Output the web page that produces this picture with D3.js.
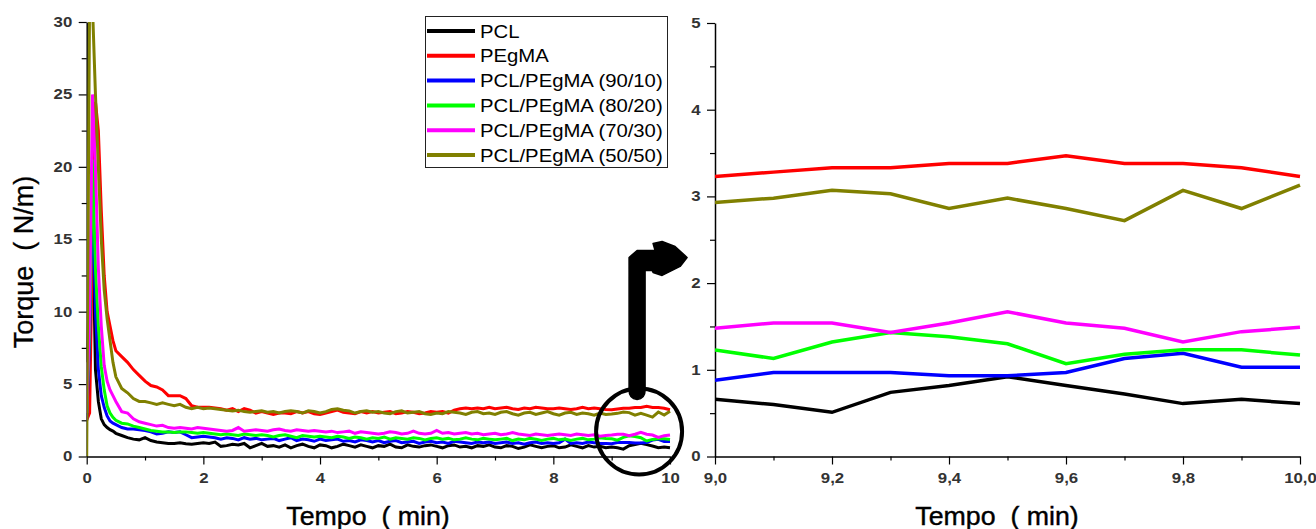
<!DOCTYPE html>
<html>
<head>
<meta charset="utf-8">
<script src="https://cdn.jsdelivr.net/npm/d3@7"></script>
<style>
  html, body { margin: 0; padding: 0; background: #fff; }
  svg { display: block; }
  text { font-family: "Liberation Sans", Arial, sans-serif; }
</style>
</head>
<body>
<svg id="chart" width="1316" height="529"></svg>
<script>
// ---------------- DATA ----------------
const seriesNames = ["PCL", "PEgMA", "PCL/PEgMA (90/10)", "PCL/PEgMA (80/20)", "PCL/PEgMA (70/30)", "PCL/PEgMA (50/50)"];
const seriesColors = ["#000000", "#ff0000", "#0000ff", "#00ff00", "#ff00ff", "#808000"];

const tempo = [0, 0.05, 0.1, 0.15, 0.2, 0.25, 0.3, 0.35, 0.4, 0.45,
  0.5, 0.6, 0.7, 0.8, 0.9,
  1.0, 1.1, 1.2, 1.3, 1.4, 1.5, 1.6, 1.7, 1.8, 1.9,
  2.0, 2.1, 2.2, 2.3, 2.4, 2.5, 2.6, 2.7, 2.8, 2.9,
  3.0, 3.1, 3.2, 3.3, 3.4, 3.5, 3.6, 3.7, 3.8, 3.9,
  4.0, 4.1, 4.2, 4.3, 4.4, 4.5, 4.6, 4.7, 4.8, 4.9,
  5.0, 5.1, 5.2, 5.3, 5.4, 5.5, 5.6, 5.7, 5.8, 5.9,
  6.0, 6.1, 6.2, 6.3, 6.4, 6.5, 6.6, 6.7, 6.8, 6.9,
  7.0, 7.1, 7.2, 7.3, 7.4, 7.5, 7.6, 7.7, 7.8, 7.9,
  8.0, 8.1, 8.2, 8.3, 8.4, 8.5, 8.6, 8.7, 8.8, 8.9,
  9.0, 9.1, 9.2, 9.3, 9.4, 9.5, 9.6, 9.7, 9.8, 9.9, 10.0];

const pcl = [6.5, 11, 17, 6, 3.8, 2.6, 2.2, 2.0, 1.85, 1.75,
  1.6, 1.45, 1.3, 1.2, 1.15,
  1.3, 1.1, 1.0, 0.95, 0.9, 0.9, 0.95, 0.88, 0.85, 0.9,
  0.95, 0.9, 1.0, 0.7, 0.75, 0.85, 0.8, 0.9, 0.6, 0.75,
  0.9, 0.7, 0.75, 0.65, 0.8, 0.6, 0.75, 0.85, 0.7, 0.6,
  0.8, 0.75, 0.6, 0.7, 0.85, 0.75, 0.65, 0.8, 0.7, 0.6,
  0.75, 0.7, 0.85, 0.65, 0.6, 0.8, 0.7, 0.65, 0.75, 0.8,
  0.7, 0.6, 0.75, 0.8, 0.65, 0.7, 0.6, 0.75, 0.7, 0.8,
  0.65, 0.6, 0.75, 0.7, 0.55, 0.65, 0.8, 0.7, 0.6, 0.7,
  0.75, 0.6, 0.65, 0.8, 0.7, 0.6, 0.75, 0.65, 0.7, 0.6,
  0.66, 0.60, 0.51, 0.74, 0.82, 0.92, 0.82, 0.72, 0.61, 0.66, 0.61];

const pegma = [2.5, 3, 15, 24.5, 22.5, 17, 12.5, 10, 9, 8,
  7.3, 6.9, 6.5, 6.0, 5.6,
  5.2, 4.9, 4.8, 4.6, 4.2, 4.2, 4.2, 4.0, 3.5, 3.4,
  3.4, 3.4, 3.35, 3.3, 3.2, 3.3, 3.1, 3.3, 3.2, 3.0,
  3.1, 3.0, 2.9, 3.0, 3.0, 2.95, 3.1, 3.0, 3.1, 2.95,
  2.9, 3.0, 3.1, 3.2, 3.05, 3.0, 2.95, 3.1, 3.0, 3.1,
  3.0, 3.05, 3.1, 2.95, 3.0, 3.1, 3.05, 2.95, 3.0, 3.1,
  3.05, 3.1, 3.0, 3.2, 3.3, 3.35, 3.3, 3.35, 3.3, 3.4,
  3.3, 3.35, 3.4, 3.3, 3.25, 3.35, 3.3, 3.4, 3.35, 3.3,
  3.3, 3.35, 3.3, 3.25, 3.3, 3.4, 3.3, 3.35, 3.3, 3.25,
  3.23, 3.28, 3.33, 3.33, 3.38, 3.38, 3.47, 3.38, 3.38, 3.33, 3.23];

const blend9010 = [2.5, 8, 19, 10, 6, 4.2, 3.4, 2.8, 2.45, 2.3,
  2.2, 2.0, 1.9, 1.9, 1.85,
  1.8, 1.7, 1.55, 1.6, 1.7, 1.65, 1.7, 1.5, 1.3, 1.35,
  1.4, 1.35, 1.3, 1.2, 1.3, 1.25, 1.15, 1.3, 1.2, 1.25,
  1.15, 1.2, 1.25, 1.1, 1.2, 1.3, 1.1, 1.2, 1.15, 1.05,
  1.2, 1.1, 1.15, 1.2, 1.05, 1.1, 1.0, 1.15, 1.1, 1.0,
  1.1, 0.95, 1.05, 1.1, 0.95, 1.0, 1.05, 0.9, 1.0, 1.05,
  0.95, 1.0, 0.9, 1.05, 1.0, 0.95, 0.9, 1.0, 0.95, 1.0,
  0.9, 0.95, 1.0, 0.9, 0.95, 0.85, 0.95, 1.0, 0.9, 0.95,
  0.9, 0.95, 1.2, 0.9, 0.95, 0.9, 1.0, 0.95, 0.9, 0.9,
  0.88, 0.97, 0.97, 0.97, 0.93, 0.93, 0.97, 1.13, 1.19, 1.03, 1.03];

const blend8020 = [3, 9, 20.5, 13, 9, 6.2, 4.6, 3.5, 3.0, 2.7,
  2.5, 2.3, 2.25, 2.1, 2.0,
  1.9, 1.8, 1.75, 1.7, 1.7, 1.65, 1.7, 1.7, 1.65, 1.6,
  1.65, 1.6, 1.55, 1.5, 1.55, 1.5, 1.45, 1.55, 1.5, 1.45,
  1.5, 1.45, 1.35, 1.45, 1.5, 1.4, 1.3, 1.45, 1.4, 1.35,
  1.4, 1.35, 1.3, 1.4, 1.35, 1.25, 1.35, 1.3, 1.2, 1.3,
  1.25, 1.35, 1.2, 1.3, 1.25, 1.2, 1.3, 1.25, 1.15, 1.25,
  1.3, 1.2, 1.25, 1.15, 1.2, 1.3, 1.2, 1.15, 1.25, 1.2,
  1.15, 1.2, 1.25, 1.1, 1.2, 1.15, 1.25, 1.2, 1.1, 1.2,
  1.25, 1.15, 1.2, 1.1, 1.2, 1.25, 1.15, 1.2, 1.3, 1.25,
  1.23, 1.13, 1.32, 1.43, 1.38, 1.30, 1.07, 1.18, 1.23, 1.23, 1.17];

const blend7030 = [3, 10, 25, 20, 13, 9, 6.3, 5.2, 4.6, 4.2,
  3.8, 3.1, 3.0, 2.6, 2.4,
  2.3, 2.2, 2.1, 2.15, 2.0, 1.95, 2.0, 1.95, 1.9, 2.0,
  1.95, 1.9, 1.85, 1.8, 1.75, 1.8, 2.0, 1.75, 1.8, 1.85,
  1.8, 1.75, 1.85, 1.9, 1.8, 1.75, 1.85, 1.8, 1.75, 1.8,
  1.75, 1.7, 1.75, 1.65, 1.7, 1.75, 1.6, 1.7, 1.65, 1.6,
  1.55, 1.6, 1.7, 1.65, 1.55, 1.6, 1.75, 1.6, 1.55, 1.6,
  1.8, 1.6, 1.65, 1.55, 1.6, 1.65, 1.55, 1.6, 1.5, 1.55,
  1.6, 1.5, 1.55, 1.65, 1.55, 1.5, 1.45, 1.55, 1.5, 1.45,
  1.5, 1.55, 1.5, 1.45, 1.55, 1.5, 1.45, 1.5, 1.4, 1.45,
  1.48, 1.54, 1.54, 1.43, 1.54, 1.67, 1.54, 1.48, 1.32, 1.44, 1.49];

const blend5050 = [0, 32, 31, 25, 20, 15, 11.5, 9.5, 8, 6.5,
  5.5, 4.7, 4.4, 4.0, 3.8,
  3.8, 3.7, 3.6, 3.7, 3.6, 3.5, 3.6, 3.4, 3.3, 3.4,
  3.3, 3.35, 3.3, 3.25, 3.2, 3.15, 3.2, 3.1, 3.05, 3.1,
  3.15, 3.05, 3.1, 3.0, 3.1, 3.15, 3.1, 3.0, 3.15, 3.1,
  3.0, 3.1, 3.25, 3.3, 3.2, 3.15, 3.0, 3.1, 3.15, 3.05,
  3.1, 3.0, 2.95, 3.1, 3.15, 3.0, 3.05, 3.1, 2.95, 2.9,
  3.0, 2.95, 3.1, 3.05, 3.0, 2.9, 3.05, 3.1, 2.95, 3.0,
  2.9, 3.05, 3.1, 2.95, 2.85, 3.0, 3.05, 2.9, 3.0, 3.1,
  2.95, 2.85, 3.0, 3.05, 2.9, 3.0, 2.95, 2.85, 3.0, 2.9,
  2.93, 2.98, 3.07, 3.03, 2.86, 2.98, 2.86, 2.72, 3.07, 2.86, 3.13];

const leftXTicks = [0, 2, 4, 6, 8, 10];
const leftXMinor = [1, 3, 5, 7, 9];
const leftYTicks = [0, 5, 10, 15, 20, 25, 30];
const leftYMinor = [2.5, 7.5, 12.5, 17.5, 22.5, 27.5];
const rightXTicks = [9.0, 9.2, 9.4, 9.6, 9.8, 10.0];
const rightXMinor = [9.1, 9.3, 9.5, 9.7, 9.9];
const rightYTicks = [0, 1, 2, 3, 4, 5];
const rightYMinor = [0.5, 1.5, 2.5, 3.5, 4.5];
const xTitle = "Tempo  ( min)";
const yTitle = "Torque  ( N/m)";

// ---------------- BUILD ----------------
const allValues = [pcl, pegma, blend9010, blend8020, blend7030, blend5050];
const series = seriesNames.map((name, i) => ({
  name, color: seriesColors[i],
  values: tempo.map((t, j) => ({ t, v: allValues[i][j] }))
}));

const svg = d3.select("#chart");
svg.append("rect").attr("width", 1316).attr("height", 529).attr("fill", "#fff");

const xL = d3.scaleLinear().domain([0, 10]).range([86.7, 670]);
const yL = d3.scaleLinear().domain([0, 30]).range([456.5, 22]);
const xR = d3.scaleLinear().domain([9, 10]).range([715, 1300]);
const yR = d3.scaleLinear().domain([0, 5]).range([456.5, 23]);

const defs = svg.append("defs");
defs.append("clipPath").attr("id", "clipL").append("rect")
  .attr("x", xL(0)).attr("y", yL(30)).attr("width", xL(10) - xL(0) + 3).attr("height", yL(0) - yL(30));
defs.append("clipPath").attr("id", "clipR").append("rect")
  .attr("x", xR(9)).attr("y", yR(5)).attr("width", xR(10) - xR(9) + 3).attr("height", yR(0) - yR(5) + 2);

const commaFmt = d => d3.format(".1f")(d).replace(".", ",");

function drawAxes(xs, ys, xt, xm, yt, ym, xfmt) {
  const g = svg.append("g");
  // minor ticks
  g.append("g").attr("transform", `translate(0,${ys.range()[0]})`)
    .call(d3.axisBottom(xs).tickValues(xm).tickSize(4).tickFormat(""))
    .call(s => s.select(".domain").remove());
  g.append("g").attr("transform", `translate(${xs.range()[0]},0)`)
    .call(d3.axisLeft(ys).tickValues(ym).tickSize(5).tickFormat(""))
    .call(s => s.select(".domain").remove());
  // major
  const gx = g.append("g").attr("transform", `translate(0,${ys.range()[0]})`)
    .call(d3.axisBottom(xs).tickValues(xt).tickSize(8).tickSizeOuter(0).tickPadding(9).tickFormat(xfmt));
  const gy = g.append("g").attr("transform", `translate(${xs.range()[0]},0)`)
    .call(d3.axisLeft(ys).tickValues(yt).tickSize(8).tickSizeOuter(0).tickPadding(4).tickFormat(d3.format("d")));
  [gx, gy].forEach(a => {
    a.select(".domain").attr("stroke", "#000").attr("stroke-width", 1.5);
    a.selectAll(".tick line").attr("stroke", "#000").attr("stroke-width", 1.2);
    a.selectAll(".tick text")
      .attr("font-size", 14).attr("font-weight", "bold").attr("fill", "#333")
      .attr("font-family", "'Liberation Sans', Arial, sans-serif");
  });
  gy.selectAll(".tick text").attr("transform", "scale(1.2,1)");
  gx.selectAll(".tick text").attr("transform", "scale(1.2,1)");
  g.selectAll(".tick line").attr("stroke", "#000").attr("stroke-width", 1.2);
}

drawAxes(xL, yL, leftXTicks, leftXMinor, leftYTicks, leftYMinor, d3.format("d"));
drawAxes(xR, yR, rightXTicks, rightXMinor, rightYTicks, rightYMinor, commaFmt);

// lines
const lineL = d3.line().x(d => xL(d.t)).y(d => yL(d.v));
const lineR = d3.line().x(d => xR(d.t)).y(d => yR(d.v));

svg.append("g").attr("clip-path", "url(#clipL)")
  .selectAll("path").data(series).join("path")
  .attr("d", d => lineL(d.values))
  .attr("fill", "none").attr("stroke", d => d.color)
  .attr("stroke-width", 3).attr("stroke-linejoin", "miter");

svg.append("g").attr("clip-path", "url(#clipR)")
  .selectAll("path").data(series).join("path")
  .attr("d", d => lineR(d.values.filter(p => p.t >= 8.95)))
  .attr("fill", "none").attr("stroke", d => d.color)
  .attr("stroke-width", 3.5).attr("stroke-linejoin", "miter");

// legend
const lg = svg.append("g");
lg.append("rect").attr("x", 425.5).attr("y", 16.5).attr("width", 242).attr("height", 151)
  .attr("fill", "#fff").attr("stroke", "#222").attr("stroke-width", 1);
series.forEach((s, i) => {
  const y = 31 + i * 24.8;
  lg.append("line").attr("x1", 427).attr("x2", 475).attr("y1", y).attr("y2", y)
    .attr("stroke", s.color).attr("stroke-width", 4);
  lg.append("text").attr("transform", `translate(480,${y + 6.5}) scale(1.16,1)`)
    .attr("font-size", 17.5).attr("fill", "#000").text(s.name);
});

// axis titles
svg.append("text").attr("transform", `translate(368,525) scale(1.07,1)`)
  .attr("text-anchor", "middle").attr("font-size", 25).attr("fill", "#000")
  .attr("stroke", "#000").attr("stroke-width", 0.4)
  .style("white-space", "pre").text(xTitle);
svg.append("text").attr("transform", `translate(997,525) scale(1.07,1)`)
  .attr("text-anchor", "middle").attr("font-size", 25).attr("fill", "#000")
  .attr("stroke", "#000").attr("stroke-width", 0.4)
  .style("white-space", "pre").text(xTitle);
svg.append("text").attr("transform", `translate(33,262) rotate(-90)`)
  .attr("text-anchor", "middle").attr("font-size", 27).attr("fill", "#000")
  .attr("stroke", "#000").attr("stroke-width", 0.3)
  .style("white-space", "pre").text(yTitle);

// zoom annotation: circle + arrow
const cx = xL(9.47), cy = yL(1.73);
svg.append("circle").attr("cx", cx).attr("cy", cy).attr("r", 43)
  .attr("fill", "none").attr("stroke", "#000").attr("stroke-width", 4);
const p = d3.path();
p.moveTo(cx - 10, cy - 41);
p.lineTo(cx - 10, cy - 174);
p.lineTo(cx - 2, cy - 181);
p.lineTo(cx + 16, cy - 181);
p.lineTo(cx + 14, cy - 188);
p.lineTo(cx + 23, cy - 190);
p.lineTo(cx + 36, cy - 185);
p.lineTo(cx + 48, cy - 174);
p.lineTo(cx + 41, cy - 165);
p.lineTo(cx + 23, cy - 156);
p.lineTo(cx + 14, cy - 159);
p.lineTo(cx + 13, cy - 161);
p.lineTo(cx + 6, cy - 161);
p.lineTo(cx + 6, cy - 41);
p.quadraticCurveTo(cx + 6, cy - 33, cx - 2, cy - 32);
p.quadraticCurveTo(cx - 10, cy - 33, cx - 10, cy - 41);
p.closePath();
svg.append("path").attr("d", p.toString()).attr("fill", "#000")
  .attr("stroke", "#000").attr("stroke-width", 1.5).attr("stroke-linejoin", "round");
</script>
</body>
</html>
